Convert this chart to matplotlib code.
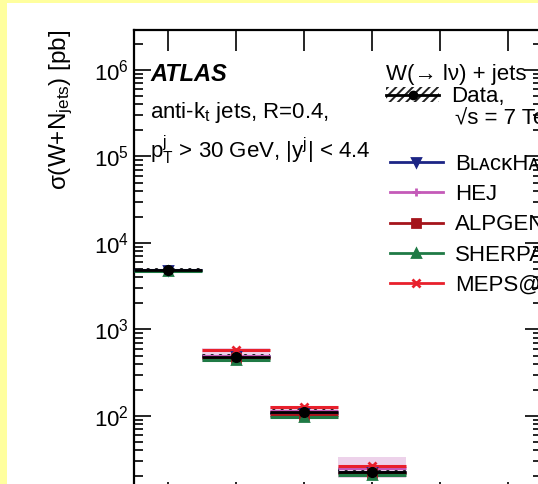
import numpy as np
import matplotlib
matplotlib.use('Agg')
import matplotlib.pyplot as plt
from matplotlib.patches import Patch, Rectangle
from matplotlib.lines import Line2D

plt.rcParams['font.family'] = ['Liberation Sans', 'DejaVu Sans']
plt.rcParams['mathtext.fontset'] = 'custom'
plt.rcParams['mathtext.rm'] = 'Liberation Sans'
plt.rcParams['mathtext.it'] = 'Liberation Sans:italic'
plt.rcParams['mathtext.bf'] = 'Liberation Sans:bold'
plt.rcParams['hatch.linewidth'] = 1.4

# inclusive jet multiplicity bins
njets = [1, 2, 3, 4]
njet_labels = ['$\\geq$1', '$\\geq$2', '$\\geq$3', '$\\geq$4']

# cross sections [pb]
data = [4850, 480, 111, 22.5]
data_err = [0.07, 0.09, 0.10, 0.11]  # relative

blackhat = [4850, 490, 108, 22.8]
hej = [np.nan, 500, 113, 25.0]
hej_lo = [np.nan, 420, 95, 19.2]
hej_hi = [np.nan, 610, 130, 33.6]
alpgen = [np.nan, 470, 104, 22.0]
sherpa = [4800, 440, 98, 21.0]
meps = [np.nan, 575, 127, 26.5]

models = [
    ('BʟᴀᴄᴋHᴀᴛ-Sʜᴇʀᴘᴀ', blackhat, '#1c2585', 'v'),
    ('HEJ', hej, '#c45ab8', '+'),
    ('ALPGEN', alpgen, '#a5141b', 's'),
    ('SHERPA', sherpa, '#1f7a45', '^'),
    ('MEPS@NLO', meps, '#e8202c', 'x'),
]

FS = 16

fig = plt.figure(figsize=(5.38, 4.84), dpi=100, facecolor='#ffff9e')
# white page inside the yellow frame
fig.patches.append(Rectangle((7 / 538, 0), 1, 1 - 3 / 484, transform=fig.transFigure,
                             facecolor='white', edgecolor='none', zorder=-10))

ax = fig.add_axes([134 / 538, 1 - 502.5 / 484, 408 / 538, 472.5 / 484])
ax.set_facecolor('none')
ax.set_yscale('log')
ax.set_xlim(0.5, 6.5)
ax.set_ylim(10, 10 ** 6.462)

# HEJ uncertainty band
for i, x in enumerate(njets):
    if not np.isnan(hej_lo[i]):
        ax.fill_between([x - 0.5, x + 0.5], hej_lo[i], hej_hi[i], color='#e2b4dc',
                        alpha=0.6, lw=0, zorder=1)

# data hatched band
for i, x in enumerate(njets):
    lo = data[i] * (1 - data_err[i])
    hi = data[i] * (1 + data_err[i])
    ax.fill_between([x - 0.5, x + 0.5], lo, hi, facecolor='none', edgecolor='#222222',
                    hatch='////', lw=0, zorder=2)

# predictions
for name, vals, col, mk in models:
    for i, x in enumerate(njets):
        if np.isnan(vals[i]):
            continue
        ax.hlines(vals[i], x - 0.5, x + 0.5, color=col, lw=2.2, zorder=3)
        ax.plot(x, vals[i], marker=mk, color=col, ms=6, mew=2, zorder=4)

# data points
for i, x in enumerate(njets):
    ax.hlines(data[i], x - 0.5, x + 0.5, color='black', lw=2, zorder=5)
    ax.plot(x, data[i], 'o', color='black', ms=7, zorder=6)

ax.set_xticks(range(1, 7))
ax.set_xticklabels(njet_labels + ['', ''])
ax.tick_params(axis='x', which='major', direction='in', length=15, width=1.2,
               top=True, bottom=True, labelsize=FS)
ax.tick_params(axis='x', which='minor', bottom=False, top=False)
ax.tick_params(axis='y', which='major', direction='in', length=12, width=1.2,
               left=True, right=True, labelsize=FS, pad=3.5)
ax.tick_params(axis='y', which='minor', direction='in', length=6.5, width=1.2,
               left=True, right=True)
for sp in ax.spines.values():
    sp.set_linewidth(1.6)

ax.set_ylabel('σ(W+N$_{\\rm jets}$) [pb]', fontsize=17.5, loc='top', labelpad=14)

ax.text(0.04, 0.905, 'ATLAS', transform=ax.transAxes, fontsize=17,
        fontweight='bold', fontstyle='italic', va='center')
ax.text(0.04, 0.826, 'anti-k$_{\\rm t}$ jets, R=0.4,', transform=ax.transAxes,
        fontsize=FS, va='center')
ax.text(0.04, 0.746, 'p$_{\\rm T}^{\\rm j}$ > 30 GeV, |y$^{\\rm j}$| < 4.4',
        transform=ax.transAxes, fontsize=FS, va='center')

# legend: header + data
data_handle = (Patch(facecolor='none', edgecolor='#222222', hatch='////', lw=0),
               Line2D([], [], color='black', marker='o', lw=2, ms=6))
leg1 = ax.legend([data_handle], ['Data,'],
                 title='W(→ lν) + jets', title_fontsize=FS, alignment='left',
                 loc='upper left', bbox_to_anchor=(0.618, 0.929), frameon=False,
                 fontsize=FS, handlelength=2.4, handletextpad=0.54,
                 labelspacing=0.08, borderaxespad=0, borderpad=0)
ax.add_artist(leg1)
ax.text(0.787, 0.812, '√s = 7 TeV', transform=ax.transAxes,
        fontsize=FS, va='center')

model_handles = [Line2D([], [], color=c, marker=m, lw=2, ms=6, mew=2) for _, _, c, m in models]
ax.legend(model_handles, [n for n, _, _, _ in models], loc='upper left',
          bbox_to_anchor=(0.627, 0.738), frameon=False, fontsize=FS,
          handlelength=2.4, handletextpad=0.54, labelspacing=0.42,
          borderaxespad=0, borderpad=0)

fig.savefig('out.png', dpi=100, facecolor=fig.get_facecolor())
